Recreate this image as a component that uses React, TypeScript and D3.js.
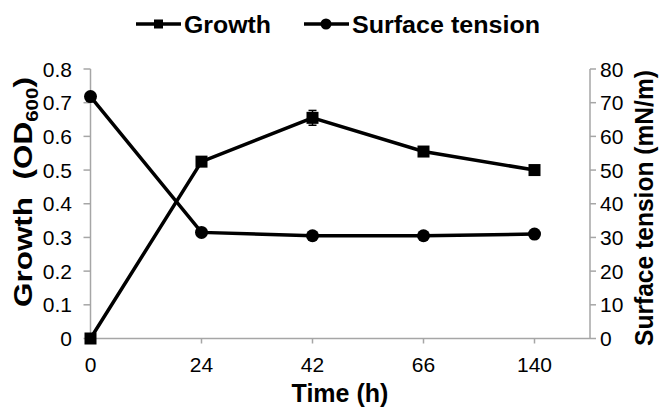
import * as d3 from "d3";

// time points (h) shown as evenly spaced categories
const categories = ["0", "24", "42", "66", "140"];
const growth = [0, 0.525, 0.655, 0.555, 0.5];
const growthErr = [0.004, 0.006, 0.022, 0.008, 0.007];
const tension = [71.8, 31.5, 30.5, 30.5, 31];
const leftTicks = [0, 0.1, 0.2, 0.3, 0.4, 0.5, 0.6, 0.7, 0.8];
const rightTicks = [0, 10, 20, 30, 40, 50, 60, 70, 80];

const W = 666, H = 410;
const margin = {left: 90.5, right: 76, top: 69, bottom: 71.5};
const font = "'Liberation Sans', Arial, sans-serif";
const axisColor = "#a6a6a6";

export default function App() {
    const x = d3.scaleLinear().domain([0, 4.5]).range([margin.left, W - margin.right]);
    const yL = d3.scaleLinear().domain([0, 0.8]).range([H - margin.bottom, margin.top]);
    const yR = d3.scaleLinear().domain([0, 80]).range([H - margin.bottom, margin.top]);
    const x0 = x(0), x1 = x(4.5), y0 = yL(0), yTop = yL(0.8);

    const growthLine = d3.line<number>().x((d, i) => x(i)).y(d => yL(d));
    const tensionLine = d3.line<number>().x((d, i) => x(i)).y(d => yR(d));

    return (
        <svg width={W} height={H} style={{position: "absolute", left: 0, top: 0, background: "#fff"}}
             fontFamily={font}>
            {/* legend */}
            <g>
                <line x1={136} x2={181} y1={24} y2={24} stroke="#000" strokeWidth={3.5}/>
                <rect x={154} y={19.5} width={9} height={9} fill="#000"/>
                <text x={184} y={32.5} fontSize={23} fontWeight="bold" textLength={87}
                      lengthAdjust="spacingAndGlyphs">Growth</text>
                <line x1={304} x2={349} y1={24} y2={24} stroke="#000" strokeWidth={3.5}/>
                <circle cx={326} cy={24} r={5.5} fill="#000"/>
                <text x={352} y={32.5} fontSize={23} fontWeight="bold" textLength={188}
                      lengthAdjust="spacingAndGlyphs">Surface tension</text>
            </g>

            {/* axes */}
            <g stroke={axisColor} strokeWidth={1.5}>
                <line x1={x0} x2={x0} y1={yTop} y2={y0}/>
                <line x1={x1} x2={x1} y1={yTop} y2={y0}/>
                <line x1={x0} x2={x1} y1={y0} y2={y0}/>
                {leftTicks.map(t => <line key={"l" + t} x1={x0 - 7} x2={x0} y1={yL(t)} y2={yL(t)}/>)}
                {rightTicks.map(t => <line key={"r" + t} x1={x1} x2={x1 + 6} y1={yR(t)} y2={yR(t)}/>)}
                {categories.map((c, i) => i > 0 &&
                    <line key={"x" + c} x1={x(i)} x2={x(i)} y1={y0} y2={y0 + 5}/>)}
            </g>

            <g fontSize={21} fill="#000">
                {leftTicks.map(t => (
                    <text key={"lt" + t} x={72} y={yL(t)} textAnchor="end" dominantBaseline="central">
                        {t === 0 ? "0" : d3.format(".1f")(t)}
                    </text>
                ))}
                {rightTicks.map(t => (
                    <text key={"rt" + t} x={600} y={yR(t)} dominantBaseline="central">{t}</text>
                ))}
                {categories.map((c, i) => (
                    <text key={"xt" + c} x={x(i)} y={371.5} textAnchor="middle">{c}</text>
                ))}
            </g>

            {/* titles */}
            <text x={340} y={402} textAnchor="middle" fontSize={25} fontWeight="bold">Time (h)</text>
            <text transform={`translate(32,192) rotate(-90)`} textAnchor="middle" fontSize={26}
                  fontWeight="bold" textLength={230} lengthAdjust="spacingAndGlyphs">
                Growth{"\u00a0 "}(OD<tspan fontSize={17} dy={6}>600</tspan><tspan dy={-6}>)</tspan>
            </text>
            <text transform={`translate(653,208) rotate(-90)`} textAnchor="middle" fontSize={26}
                  fontWeight="bold" textLength={276} lengthAdjust="spacingAndGlyphs">
                Surface tension (mN/m)
            </text>

            {/* series */}
            <path d={tensionLine(tension) ?? ""} fill="none" stroke="#000" strokeWidth={3.5}/>
            <path d={growthLine(growth) ?? ""} fill="none" stroke="#000" strokeWidth={3.5}/>
            {growth.map((g, i) => (
                <g key={"e" + i} stroke="#000" strokeWidth={1.5}>
                    <line x1={x(i)} x2={x(i)} y1={yL(g - growthErr[i])} y2={yL(g + growthErr[i])}/>
                    <line x1={x(i) - 4} x2={x(i) + 4} y1={yL(g - growthErr[i])} y2={yL(g - growthErr[i])}/>
                    <line x1={x(i) - 4} x2={x(i) + 4} y1={yL(g + growthErr[i])} y2={yL(g + growthErr[i])}/>
                </g>
            ))}
            {growth.map((g, i) => (
                <rect key={"g" + i} x={x(i) - 6} y={yL(g) - 6} width={12} height={12} fill="#000"/>
            ))}
            {tension.map((t, i) => (
                <circle key={"t" + i} cx={x(i)} cy={yR(t)} r={6.5} fill="#000"/>
            ))}
        </svg>
    );
}
